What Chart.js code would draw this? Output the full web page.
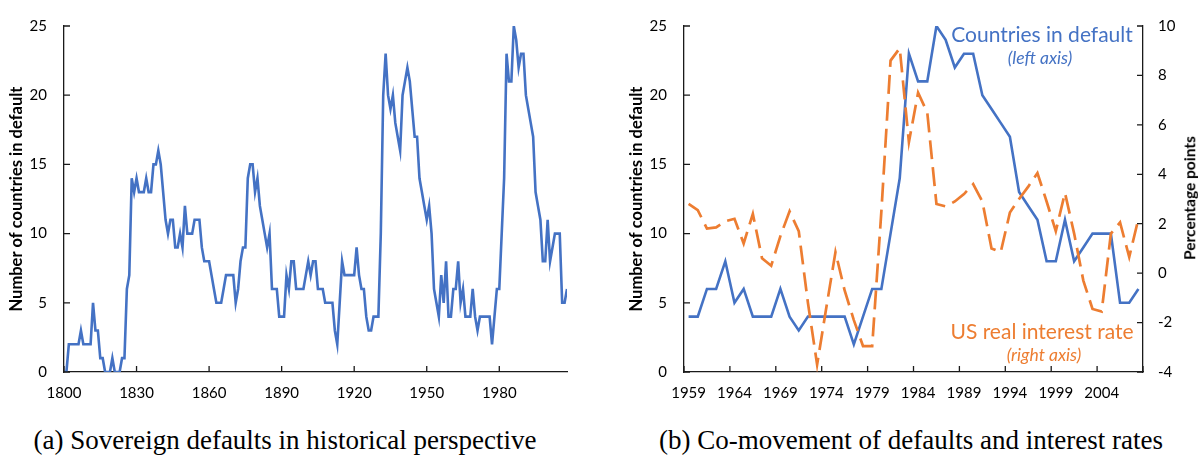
<!DOCTYPE html>
<html>
<head>
<meta charset="utf-8">
<title>Sovereign defaults</title>
<script src="https://cdn.jsdelivr.net/npm/chart.js@4.4.0/dist/chart.umd.min.js"></script>
<style>
  html, body { margin: 0; padding: 0; background: #fff; }
  #page { position: relative; width: 1198px; height: 459px; overflow: hidden; font-family: Lato, sans-serif; }
  .box { position: absolute; top: 0; height: 400px; }
  .note { position: absolute; white-space: nowrap; transform: translate(-50%, -50%); line-height: 1; }
  .caption { position: absolute; top: 440px; transform: translate(-50%, -50%); white-space: nowrap;
             font-family: 'Liberation Serif', 'Times New Roman', serif; font-size: 27px; color: #000; }
  #rightTitle { position: absolute; left: 1190px; top: 198px; transform: translate(-50%, -50%) rotate(-90deg);
                white-space: nowrap; font-weight: bold; font-size: 15.5px; line-height: 1; color: #000; }
</style>
</head>
<body>
<div id="page">
  <div class="box" style="left:0;width:590px"><canvas id="historyChart"></canvas></div>
  <div class="box" style="left:590px;width:608px"><canvas id="comoveChart"></canvas></div>
  <div class="note" style="left:1042px;top:33px;color:#4472C4;font-size:21px">Countries in default</div>
  <div class="note" style="left:1040px;top:58px;color:#4472C4;font-size:17.5px;font-style:italic">(left axis)</div>
  <div class="note" style="left:1042px;top:330px;color:#ED7D31;font-size:21px">US real interest rate</div>
  <div class="note" style="left:1044px;top:355px;color:#ED7D31;font-size:17.5px;font-style:italic">(right axis)</div>
  <div id="rightTitle">Percentage points</div>
  <div class="caption" style="left:285px">(a) Sovereign defaults in historical perspective</div>
  <div class="caption" style="left:911px">(b) Co-movement of defaults and interest rates</div>
</div>
<script>
// Number of countries in default, one value per year from 1800 to 2008
const firstYear = 1800;
const defaultCounts = [
    0, 0, 2, 2, 2, 2, 2, 3, 2, 2,        // 1800s
    2, 2, 5, 3, 3, 1, 1, 0, 0, 0,
    1, 0, 0, 0, 1, 1, 6, 7, 14, 13,
    14, 13, 13, 13, 14, 13, 13, 15, 15, 16,
    15, 13, 11, 10, 11, 11, 9, 9, 10, 9,
    12, 10, 10, 10, 11, 11, 11, 9, 8, 8,
    8, 7, 6, 5, 5, 5, 6, 7, 7, 7,
    7, 5, 6, 8, 9, 9, 14, 15, 15, 13,
    14, 12, 11, 10, 9, 10, 6, 6, 6, 4,
    4, 4, 7, 6, 8, 8, 6, 6, 6, 6,
    7, 8, 7, 8, 8, 6, 6, 6, 5, 5,        // 1900s
    5, 5, 3, 2, 5, 8, 7, 7, 7, 7,
    7, 9, 7, 6, 6, 4, 3, 3, 4, 4,
    4, 10, 20, 23, 20, 19, 20, 18, 17, 16,
    20, 21, 22, 21, 19, 17, 17, 14, 13, 12,
    11, 12, 10, 6, 5, 4, 7, 5, 8, 4,
    4, 6, 6, 8, 5, 6, 4, 4, 4, 6,
    4, 3, 4, 4, 4, 4, 4, 2, 4, 6,
    6, 10, 14, 23, 21, 21, 25, 24, 22, 23,
    23, 20, 19, 18, 17, 13, 12, 11, 8, 8,
    11, 8, 9, 10, 10, 10, 5, 5, 6        // 2000-2008
];
const historyTicks = [1800, 1830, 1860, 1890, 1920, 1950, 1980];

// US real interest rate, 1959 to 2008 (percentage points)
const comoveStart = 1959;
const realRates = [
    2.8, 2.55, 1.8, 1.85, 2.1, 2.2, 1.2, 2.4, 0.6, 0.3,
    1.5, 2.5, 1.7, -1.2, -3.7, -1.4, 0.85, -0.7, -1.9, -2.95,
    -2.95, 2.5, 8.6, 9.1, 5.3, 7.3, 6.5, 2.8, 2.7, 2.9,
    3.2, 3.6, 2.9, 1.0, 0.85, 2.45, 3.0, 3.5, 4.05, 2.9,
    1.7, 3.25, 1.6, -0.3, -1.45, -1.55, 1.6, 2.05, 0.65, 2.2
];
const comoveTicks = [1959, 1964, 1969, 1974, 1979, 1984, 1989, 1994, 1999, 2004];

const blue = '#4472C4';
const orange = '#ED7D31';
const axisColor = '#1a1a1a';

Chart.defaults.font.family = 'Lato, sans-serif';
Chart.defaults.font.size = 15;
Chart.defaults.color = '#000';

var years = [];
for (i = 0; i < defaultCounts.length; i++) {
    years.push(firstYear + i);
}
var historyPoints = years.map((yr, i) => ({ x: yr, y: defaultCounts[i] }));

var offset = years.indexOf(comoveStart);
var comoveYears = years.slice(offset);
var comoveCounts = defaultCounts.slice(offset);

// Excel style tick marks pointing into the plot
const insideTicks = {
    id: 'insideTicks',
    afterDraw(chart) {
        const ctx = chart.ctx;
        const area = chart.chartArea;
        const len = 6;
        ctx.save();
        ctx.strokeStyle = axisColor;
        ctx.lineWidth = 1.3;
        ctx.beginPath();
        Object.values(chart.scales).forEach(scale => {
            let marks = [];
            if (scale.type === 'category') {
                for (let i = 0; i <= scale.getLabels().length; i += 5) {
                    marks.push(scale.getPixelForValue(i - 0.5));
                }
            } else {
                marks = scale.ticks.map(t => scale.getPixelForValue(t.value));
            }
            marks.forEach(p => {
                if (scale.isHorizontal()) {
                    ctx.moveTo(p, area.bottom); ctx.lineTo(p, area.bottom - len);
                } else if (scale.position === 'left') {
                    ctx.moveTo(area.left, p); ctx.lineTo(area.left + len, p);
                } else {
                    ctx.moveTo(area.right, p); ctx.lineTo(area.right - len, p);
                }
            });
        });
        ctx.stroke();
        ctx.restore();
    }
};

const axisBorder = { display: true, color: axisColor, width: 1.3 };
const noGrid = { display: false, drawTicks: false };
const titleFont = { family: 'Lato, sans-serif', size: 16.5, weight: 'bold' };

// Panel (a)
new Chart(document.getElementById('historyChart').getContext('2d'), {
    type: 'line',
    data: {
        datasets: [{
            label: 'Countries in default',
            data: historyPoints,
            borderColor: blue,
            borderWidth: 2.6,
            pointRadius: 0,
            tension: 0
        }]
    },
    options: {
        responsive: true,
        maintainAspectRatio: false,
        animation: false,
        layout: { padding: { top: 23, right: 23, left: 0, bottom: 0 } },
        plugins: { legend: { display: false }, tooltip: { enabled: false } },
        scales: {
            x: {
                type: 'linear',
                min: firstYear,
                max: years[years.length - 1],
                afterBuildTicks: s => { s.ticks = historyTicks.map(v => ({ value: v })); },
                afterFit: s => { s.height = 28; },
                ticks: { callback: v => String(v), padding: 12, maxRotation: 0, autoSkip: false },
                grid: noGrid,
                border: axisBorder
            },
            y: {
                min: 0,
                max: 25,
                afterFit: s => { s.width = 64; },
                ticks: { stepSize: 5, padding: 17 },
                grid: noGrid,
                border: axisBorder,
                title: { display: true, text: 'Number of countries in default', font: titleFont, padding: { top: 7, bottom: 0 } }
            }
        }
    },
    plugins: [insideTicks]
});

// Panel (b)
new Chart(document.getElementById('comoveChart').getContext('2d'), {
    type: 'line',
    data: {
        labels: comoveYears,
        datasets: [{
            label: 'Countries in default',
            data: comoveCounts,
            yAxisID: 'y',
            borderColor: blue,
            borderWidth: 2.6,
            pointRadius: 0,
            tension: 0,
            order: 1
        }, {
            label: 'US real interest rate',
            data: realRates,
            yAxisID: 'y1',
            borderColor: orange,
            borderWidth: 2.7,
            borderDash: [19, 8],
            pointRadius: 0,
            tension: 0,
            order: 0
        }]
    },
    options: {
        responsive: true,
        maintainAspectRatio: false,
        animation: false,
        layout: { padding: { top: 23, right: 0, left: 0, bottom: 0 } },
        plugins: { legend: { display: false }, tooltip: { enabled: false } },
        scales: {
            x: {
                type: 'category',
                offset: true,
                afterFit: s => { s.height = 28; },
                ticks: {
                    autoSkip: false,
                    maxRotation: 0,
                    padding: 12,
                    callback: (v, i) => comoveTicks.includes(comoveYears[i]) ? String(comoveYears[i]) : ''
                },
                grid: noGrid,
                border: axisBorder
            },
            y: {
                position: 'left',
                min: 0,
                max: 25,
                afterFit: s => { s.width = 94; },
                ticks: { stepSize: 5, padding: 17 },
                grid: noGrid,
                border: axisBorder,
                title: { display: true, text: 'Number of countries in default', font: titleFont, padding: { top: 37, bottom: 0 } }
            },
            y1: {
                position: 'right',
                min: -4,
                max: 10,
                afterFit: s => { s.width = 55; },
                ticks: { stepSize: 2, padding: 15 },
                grid: noGrid,
                border: axisBorder
            }
        }
    },
    plugins: [insideTicks]
});
</script>
</body>
</html>
